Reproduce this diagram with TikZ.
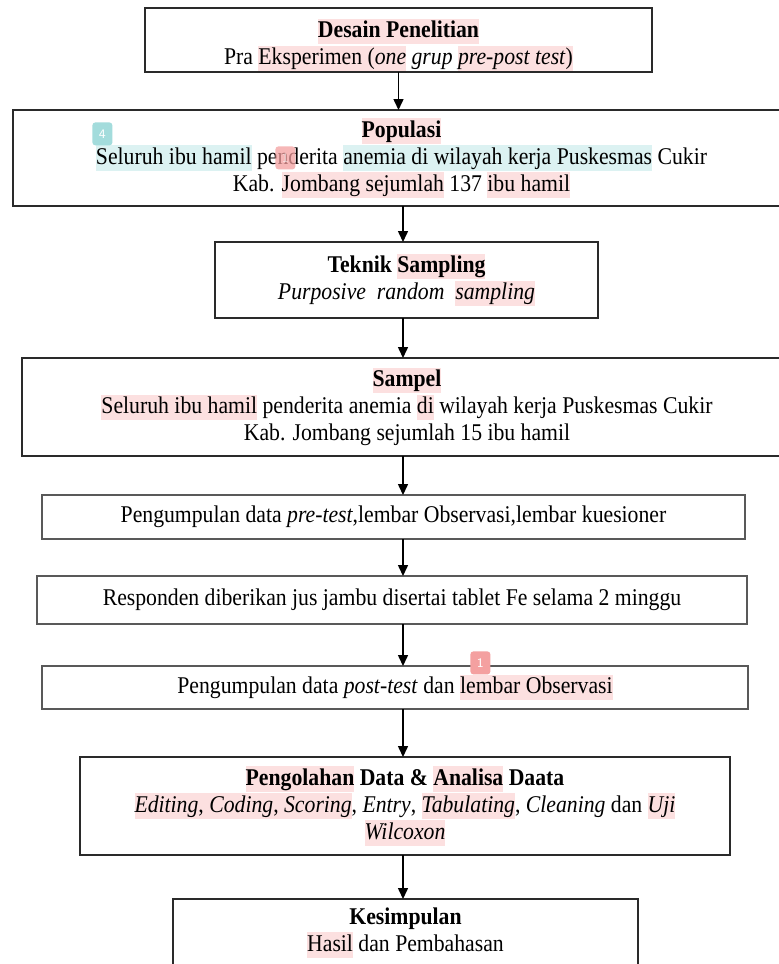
\documentclass[tikz,border=0pt]{standalone}
\usepackage{fontspec}
\setmainfont{Liberation Serif}[FakeStretch=0.905]
\usetikzlibrary{arrows.meta}
\definecolor{hlPink}{HTML}{FCE0E0}
\definecolor{hlTeal}{HTML}{DCF2F2}
\definecolor{badgeTeal}{HTML}{A3DCDC}
\definecolor{badgePink}{HTML}{F4A0A0}
\definecolor{boxLine}{HTML}{2A2A2A}
\newcommand{\hlStrut}{\rule[-3.2pt]{0pt}{12.6pt}}
\newcommand{\pinkMark}[1]{{\setlength{\fboxsep}{0pt}\colorbox{hlPink}{\hlStrut#1}}}
\newcommand{\tealMark}[1]{{\setlength{\fboxsep}{0pt}\colorbox{hlTeal}{\hlStrut#1}}}
\tikzset{
  flowBox/.style={draw=boxLine, line width=1.2pt, fill=white, align=center, anchor=north west,
    inner sep=0pt, outer sep=0pt, font=\fontsize{12}{13.5}\selectfont},
  thinBox/.style={flowBox, line width=0.7pt, draw=black!65},
  flowArrow/.style={-{Triangle[length=5.5pt,width=5pt]}, line width=0.75pt},
  badge/.style={rounded corners=1.5pt, inner sep=0pt, minimum width=10pt, minimum height=11.5pt,
    text=white, font=\sffamily\fontsize{6.5}{7}\selectfont, anchor=north west}
}

\begin{document}
\begin{tikzpicture}[x=0.5pt,y=-0.5pt]
\fill[white] (0,0) rectangle (778,964);
\useasboundingbox (0,0) rectangle (778,964);
\node[flowBox, minimum width=253.5pt, minimum height=32pt] (desain) at (145,8) {\rule{0pt}{14.6pt}\textbf{\pinkMark{Desain Penelitian}}\\Pra \pinkMark{Eksperimen (\textit{one}} \textit{grup} \pinkMark{\textit{pre-post test})}};
\node[flowBox, minimum width=388.5pt, minimum height=48pt] (populasi) at (13,110) {\textbf{\pinkMark{Populasi}}\\\tealMark{Seluruh ibu hamil} penderita \tealMark{anemia di wilayah kerja Puskesmas} Cukir\\Kab. \pinkMark{Jombang sejumlah} 137 \pinkMark{ibu hamil}};
\node[flowBox, minimum width=191.5pt, minimum height=38pt] (teknik) at (215,242) {\textbf{Teknik \pinkMark{Sampling}}\\\textit{Purposive\ \ random\ \ \pinkMark{sampling}}};
\node[flowBox, minimum width=385pt, minimum height=49pt] (sampel) at (22,358) {\textbf{\pinkMark{Sampel}}\\\pinkMark{Seluruh ibu hamil} penderita anemia \pinkMark{di} wilayah kerja Puskesmas Cukir\\Kab. Jombang sejumlah 15 ibu hamil};
\node[thinBox, minimum width=351.5pt, minimum height=22pt] (preTest) at (42,495) {Pengumpulan data \textit{pre-test},lembar Observasi,lembar kuesioner};
\node[thinBox, minimum width=355pt, minimum height=24pt] (perlakuan) at (37,576) {Responden diberikan jus jambu disertai tablet Fe selama 2 minggu};
\node[thinBox, minimum width=353pt, minimum height=21.5pt] (postTest) at (42,666) {Pengumpulan data \textit{post-test} dan \pinkMark{lembar Observasi}};
\node[flowBox, minimum width=325pt, minimum height=49pt] (olahData) at (80,757) {\textbf{\pinkMark{Pengolahan} Data \& \pinkMark{Analisa} Daata}\\\pinkMark{\textit{Editing}, \textit{Coding}, \textit{Scoring}}, \textit{Entry}, \pinkMark{\textit{Tabulating}}, \textit{Cleaning} dan \pinkMark{\textit{Uji}}\\\pinkMark{\textit{Wilcoxon}}};
\node[thinBox, draw=boxLine, minimum width=232.5pt, minimum height=33.5pt] (simpulan) at (173,899) {\textbf{Kesimpulan}\\\pinkMark{Hasil} dan Pembahasan};
\node[badge, fill=badgeTeal] (badgeEmpat) at (92,122) {4};
\node[badge, fill=badgePink, fill opacity=0.75, text opacity=0.6] (badgeTanda) at (275,146) {1};
\node[badge, fill=badgePink] (badgeSatu) at (470,651) {1};
\coordinate (spine) at (403,0);
\draw[flowArrow] (desain.south) -- (populasi.north -| desain.south);
\draw[flowArrow] (populasi.south -| spine) -- (teknik.north -| spine);
\draw[flowArrow] (teknik.south -| spine) -- (sampel.north -| spine);
\draw[flowArrow] (sampel.south -| spine) -- (preTest.north -| spine);
\draw[flowArrow] (preTest.south -| spine) -- (perlakuan.north -| spine);
\draw[flowArrow] (perlakuan.south -| spine) -- (postTest.north -| spine);
\draw[flowArrow] (postTest.south -| spine) -- (olahData.north -| spine);
\draw[flowArrow] (olahData.south -| spine) -- (simpulan.north -| spine);
\end{tikzpicture}
\end{document}
